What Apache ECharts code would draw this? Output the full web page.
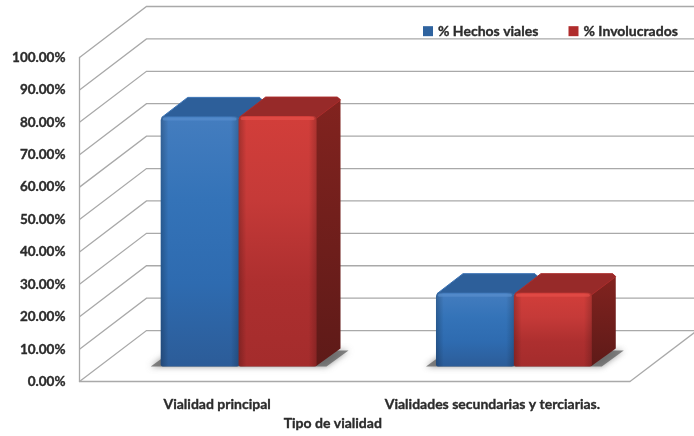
<!DOCTYPE html>
<html><head><meta charset="utf-8">
<style>html,body{margin:0;padding:0;background:#fff}#c{width:694px;height:436px}</style>
<script src="https://cdn.jsdelivr.net/npm/echarts@6/dist/echarts.min.js"></script>
</head><body><div id="c"></div>
<script>
const categories = ['Vialidad principal', 'Vialidades secundarias y terciarias.'];
const hechosViales = [77.2, 22.8];
const involucrados = [77.3, 22.8];
const yTicks = [0, 10, 20, 30, 40, 50, 60, 70, 80, 90, 100];
const seriesNames = ['% Hechos viales', '% Involucrados'];
const axisTitle = 'Tipo de vialidad';

const FONT = 'Lato, "Open Sans", sans-serif';
const TXT = '#2b2b2b';
const TEXT = {fontFamily: FONT, fontWeight: 'bold', color: TXT, textBorderColor: TXT, textBorderWidth: 0.35};
const WALL = {dx: 67, dy: -51};
const BAR_OFF = {dx: 21.5, dy: -15};
const DEPTH = {dx: 24, dy: -19};
const lg = (x0, y0, x1, y1, stops) => ({type: 'linear', x: x0, y: y0, x2: x1, y2: y1,
  colorStops: stops.map((c, i) => ({offset: stops.length > 1 ? i / (stops.length - 1) : 0, color: c}))});

const PAL = [
  {front: ['#447dbf', '#3473b8', '#2e6bb0', '#2c5c98'], top: '#2d5f9a', topEdge: '#3a72b4', side: ['#2a5a92', '#214a7c'], hi: '#5a90cf'},
  {front: ['#d23e3a', '#c53a38', '#ad2f2f', '#a42c2c'], top: '#972a29', topEdge: '#ab2d2c', side: ['#82231f', '#5e1a18'], hi: '#e8504a'}
];

function wallItem(params, api) {
  const v = api.value(1);
  const band = api.size([1, 0])[0];
  const p = api.coord([0, v]);
  const xl = p[0] - band / 2;
  const xr = xl + band * 2;
  const st = {stroke: '#a9a9a9', lineWidth: 1.3, fill: null};
  const pts = [[xl, p[1]], [xl + WALL.dx, p[1] + WALL.dy], [xr + WALL.dx, p[1] + WALL.dy]];
  const children = [{type: 'polyline', shape: {points: pts}, style: st}];
  if (v === 0) {
    children.push({type: 'line', shape: {x1: xr, y1: p[1], x2: xr + WALL.dx, y2: p[1] + WALL.dy}, style: st});
  }
  return {type: 'group', children};
}

function barItem(sIdx) {
  return function (params, api) {
    const cat = api.value(0), val = api.value(1);
    const band = api.size([1, 0])[0];
    const w = band * 0.283;
    const top = api.coord([cat, val]);
    const base = api.coord([cat, 0]);
    const x0 = top[0] + BAR_OFF.dx + (sIdx === 0 ? -w : 0);
    const x1 = x0 + w;
    const yt = top[1] + BAR_OFF.dy;
    const yb = base[1] + BAR_OFF.dy;
    const d = DEPTH, c = PAL[sIdx];
    const ch = [];
    const groupL = x0, groupR = x1 + w;
    if (sIdx === 0) {
      ch.push({type: 'polygon', shape: {points: [
        [groupL - 10, yb], [groupL + 12, yb + d.dy + 3], [groupR + d.dx + 8, yb + d.dy + 3], [groupR + 10, yb]
      ]}, style: {fill: 'rgba(95,95,95,0.75)', shadowBlur: 6, shadowColor: 'rgba(100,100,100,0.9)'}});
    }
    ch.push({type: 'polygon', shape: {points: [
      [x1 - 1, yt + 1], [x1 + d.dx - 2, yt + d.dy + 1], [x1 + d.dx - 0.5, yt + d.dy + 2], [x1 + d.dx, yt + d.dy + 4], [x1 + d.dx, yb + d.dy + 1], [x1 - 1, yb]
    ]}, style: {fill: lg(0, 0, 0, 1, c.side)}});
    ch.push({type: 'polygon', shape: {points: [
      [x0 + 1, yt + 1], [x0 + d.dx + 3, yt + d.dy], [x1 + d.dx - 3, yt + d.dy], [x1 + d.dx, yt + d.dy + 3], [x1, yt + 2]
    ]}, style: {fill: c.top, stroke: c.topEdge, lineWidth: 1, lineJoin: 'round'}});
    const shape = {x: x0, y: yt, width: w, height: yb - yt, r: [4, 4, 2, 2]};
    ch.push({type: 'rect', shape, style: {fill: lg(0, 0, 0, 1, c.front)}});
    ch.push({type: 'rect', shape, style: {fill: lg(0, 0, 1, 0, ['rgba(0,0,0,0.22)', 'rgba(0,0,0,0)', 'rgba(0,0,0,0)', 'rgba(0,0,0,0)', 'rgba(0,0,0,0)', 'rgba(0,0,0,0)', 'rgba(0,0,0,0)', 'rgba(0,0,0,0)', 'rgba(0,0,0,0)', 'rgba(0,0,0,0)', 'rgba(0,0,0,0.18)'])}});
    ch.push({type: 'rect', shape: {x: x0 + 2, y: yt + 1, width: w - 4, height: 3, r: 1.5}, style: {fill: c.hi, opacity: 0.65}});
    return {type: 'group', children: ch};
  };
}

const chart = echarts.init(document.getElementById('c'), null, {renderer: 'canvas'});
chart.setOption({
  animation: false,
  backgroundColor: '#fff',
  grid: {left: 79.5, right: 64, top: 57.5, bottom: 53.5, containLabel: false},
  legend: {
    data: seriesNames, left: 418, top: 19, itemWidth: 10, itemHeight: 10, itemGap: 30,
    icon: 'rect',
    textStyle: {...TEXT, fontSize: 14}
  },
  xAxis: {
    type: 'category', data: categories,
    axisLine: {lineStyle: {color: '#a9a9a9', width: 1.3}}, axisTick: {show: false},
    splitLine: {show: false},
    axisLabel: {...TEXT, fontSize: 14, margin: 16, interval: 0},
    name: axisTitle, nameLocation: 'middle', nameGap: 35,
    nameTextStyle: {...TEXT, fontSize: 14, padding: [0, 44, 0, 0]}
  },
  yAxis: {
    type: 'value', min: 0, max: 100, interval: 10,
    axisLine: {show: true, lineStyle: {color: '#a9a9a9', width: 1.3}}, axisTick: {show: false},
    splitLine: {show: false},
    axisLabel: {...TEXT, fontSize: 13.5, margin: 14, padding: [2, 0, 0, 0], formatter: v => v.toFixed(2) + '%'}
  },
  series: [
    {type: 'custom', name: 'wall', silent: true, z: 1, renderItem: wallItem, clip: false,
     data: yTicks.map(v => [0, v]), encode: {x: 0, y: 1}},
    {type: 'custom', name: seriesNames[0], z: 2, renderItem: barItem(0), clip: false,
     itemStyle: {color: '#2f639f'},
     data: hechosViales.map((v, i) => [i, v]), encode: {x: 0, y: 1}},
    {type: 'custom', name: seriesNames[1], z: 3, renderItem: barItem(1), clip: false,
     itemStyle: {color: '#b02c2c'},
     data: involucrados.map((v, i) => [i, v]), encode: {x: 0, y: 1}}
  ]
});
</script></body></html>
